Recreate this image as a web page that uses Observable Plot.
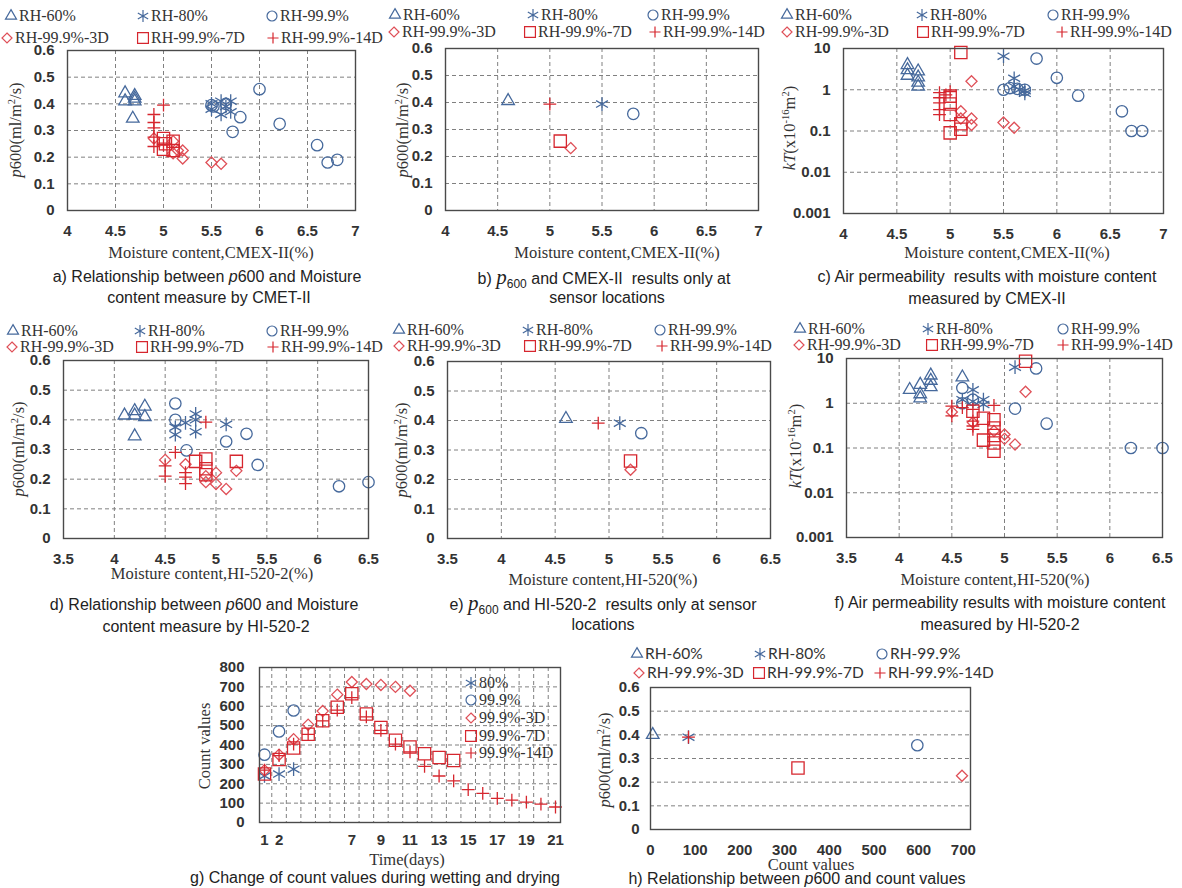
<!DOCTYPE html>
<html>
<head>
<meta charset="utf-8">
<script src="https://cdn.jsdelivr.net/npm/d3@7"></script>
<script src="https://cdn.jsdelivr.net/npm/@observablehq/plot@0.6"></script>
<style>
html,body{margin:0;padding:0;background:#fff;}
#root{position:relative;width:1182px;height:888px;overflow:hidden;background:#fff;}
#root svg text{font-weight:bold;}
.t{position:absolute;white-space:nowrap;line-height:1;color:#222;}
.serif{font-family:"Liberation Serif","Times New Roman",serif;font-size:16.5px;color:#333;}
.leg{font-family:"Liberation Serif","Times New Roman",serif;font-size:16px;color:#333;}
.cap{font-family:"Liberation Sans",Arial,sans-serif;font-size:16px;color:#222;}
.hleg{font-family:Lato,"Liberation Sans",sans-serif;font-size:15.5px;color:#333;}
.pp{font-family:"Liberation Serif",serif;font-size:21px;}
.sb{font-size:12px;position:relative;top:4px;}
.sp{font-size:10.5px;position:relative;top:-6px;}
</style>
</head>
<body>
<div id="root"></div>
<script>
// ------------------------- DATA -------------------------
const seriesLabels = ["RH-60%", "RH-80%", "RH-99.9%", "RH-99.9%-3D", "RH-99.9%-7D", "RH-99.9%-14D"];
const countLabels = ["80%", "99.9%", "99.9%-3D", "99.9%-7D", "99.9%-14D"];

const xTicksCMEX = [4, 4.5, 5, 5.5, 6, 6.5, 7];
const xTicksHI = [3.5, 4, 4.5, 5, 5.5, 6, 6.5];
const pTicks = [0, 0.1, 0.2, 0.3, 0.4, 0.5, 0.6];
const kTicks = [0.001, 0.01, 0.1, 1, 10];
const countTicks = [0, 100, 200, 300, 400, 500, 600, 700, 800];
const dayTicks = [1, 2, 7, 9, 11, 13, 15, 17, 19, 21];
const hTicks = [0, 100, 200, 300, 400, 500, 600, 700];

// a) p600 vs moisture (CMEX-II)
const a_RH60 = [[4.6,0.44],[4.6,0.41],[4.7,0.43],[4.7,0.42],[4.7,0.41],[4.68,0.345]];
const a_RH80 = [[5.5,0.38],[5.5,0.40],[5.6,0.41],[5.6,0.36],[5.7,0.41],[5.7,0.37],[5.65,0.39]];
const a_RH999 = [[5.5,0.395],[5.52,0.39],[5.65,0.40],[5.8,0.35],[5.72,0.295],[6.0,0.455],[6.21,0.325],[6.6,0.245],[6.71,0.18],[6.81,0.19]];
const a_3D = [[4.9,0.27],[5.1,0.26],[5.1,0.215],[5.2,0.225],[5.2,0.195],[5.15,0.225],[5.5,0.18],[5.6,0.175]];
const a_7D = [[5.0,0.27],[5.0,0.23],[5.1,0.26],[5.1,0.225],[5.02,0.25]];
const a_14D = [[5.0,0.395],[4.9,0.36],[4.9,0.33],[4.9,0.31],[4.9,0.275],[4.9,0.24],[5.0,0.245]];

// b) sensor locations (CMEX-II)
const b_RH60 = [[4.6,0.406]];
const b_RH80 = [[5.5,0.394]];
const b_RH999 = [[5.8,0.358]];
const b_3D = [[5.2,0.231]];
const b_7D = [[5.1,0.257]];
const b_14D = [[5.0,0.394]];

// c) kT vs moisture (CMEX-II)
const c_RH60 = [[4.6,4.0],[4.6,3.0],[4.6,2.2],[4.7,2.8],[4.7,2.0],[4.7,1.5],[4.7,1.2]];
const c_RH80 = [[5.5,6.5],[5.6,1.9],[5.6,1.2],[5.65,1.0],[5.7,0.95],[5.7,0.82]];
const c_RH999 = [[5.5,1.0],[5.56,1.1],[5.63,1.05],[5.7,1.0],[5.81,5.7],[6.0,1.95],[6.2,0.72],[6.61,0.3],[6.7,0.1],[6.8,0.1]];
const c_3D = [[5.2,1.6],[5.1,0.3],[5.2,0.2],[5.2,0.14],[5.1,0.2],[5.5,0.16],[5.6,0.12]];
const c_7D = [[5.1,8.0],[5.0,0.7],[5.0,0.45],[5.0,0.25],[5.0,0.09],[5.1,0.15],[5.1,0.11]];
const c_14D = [[4.9,0.85],[4.9,0.64],[4.9,0.48],[4.9,0.33],[4.9,0.25],[4.96,0.75],[5.0,0.9]];

// d) p600 vs moisture (HI-520-2)
const d_RH60 = [[4.1,0.415],[4.2,0.43],[4.2,0.415],[4.3,0.445],[4.3,0.41],[4.2,0.345]];
const d_RH80 = [[4.6,0.375],[4.6,0.35],[4.7,0.39],[4.8,0.42],[4.8,0.40],[4.8,0.36],[5.1,0.385]];
const d_RH999 = [[4.6,0.455],[4.6,0.40],[4.71,0.297],[5.1,0.327],[5.3,0.353],[5.41,0.248],[6.21,0.176],[6.5,0.19]];
const d_3D = [[4.5,0.265],[4.7,0.25],[4.9,0.21],[4.9,0.19],[5.0,0.222],[5.0,0.184],[5.1,0.167],[5.2,0.228]];
const d_7D = [[4.8,0.26],[4.9,0.268],[4.9,0.235],[4.9,0.215],[5.2,0.26]];
const d_14D = [[4.9,0.392],[4.6,0.29],[4.5,0.245],[4.5,0.21],[4.7,0.222],[4.7,0.207],[4.7,0.185]];

// e) sensor locations (HI-520)
const e_RH60 = [[4.6,0.406]];
const e_RH80 = [[5.1,0.391]];
const e_RH999 = [[5.3,0.357]];
const e_3D = [[5.2,0.233]];
const e_7D = [[5.2,0.263]];
const e_14D = [[4.9,0.391]];

// f) kT vs moisture (HI-520)
const f_RH60 = [[4.1,2.0],[4.2,2.6],[4.2,1.6],[4.2,1.3],[4.3,4.2],[4.3,3.2],[4.3,2.3],[4.6,3.8]];
const f_RH80 = [[5.1,6.4],[4.7,2.0],[4.6,1.2],[4.8,0.94],[4.8,1.2],[4.7,1.1]];
const f_RH999 = [[4.6,2.2],[4.7,1.2],[4.6,1.0],[5.3,6.0],[5.1,0.76],[5.4,0.35],[6.2,0.1],[6.5,0.1]];
const f_3D = [[5.2,1.8],[4.5,0.64],[4.7,0.37],[5.0,0.2],[5.0,0.16],[5.1,0.12],[4.9,0.24]];
const f_7D = [[5.2,8.7],[4.7,0.66],[4.8,0.46],[4.8,0.15],[4.9,0.43],[4.9,0.28],[4.9,0.19],[4.9,0.13],[4.9,0.085]];
const f_14D = [[4.5,0.86],[4.5,0.52],[4.6,0.8],[4.7,0.73],[4.7,0.4],[4.7,0.31],[4.7,0.26],[4.9,0.9]];

// g) count values over time
const g_days = [1,2,3,4,5,6,7,8,9,10,11,12,13,14,15,16,17,18,19,20,21];
const g_80 = [240,250,275];
const g_999 = [350,470,578];
const g_3D = [270,350,430,505,575,660,725,715,710,700,680];
const g_7D = [250,325,385,455,525,595,665,560,490,425,390,355,335,320];
const g_14D = [270,345,405,455,525,580,645,545,475,405,365,290,240,215,170,150,125,115,105,95,80];

// h) p600 vs count values
const h_RH60 = [[5,0.40]];
const h_RH80 = [[85,0.39]];
const h_RH999 = [[597,0.356]];
const h_3D = [[697,0.227]];
const h_7D = [[330,0.26]];
const h_14D = [[85,0.39]];

// ------------------------- STYLE -------------------------
const BLUE = "#46699c", RED = "#d6262e", PINK = "#df5058", GRID = "#808080";
const STYLE = [
  {symbol:"triangle2", color:BLUE, r:6,   lt:d3.symbolTriangle2, ls:87},
  {symbol:"asterisk",  color:BLUE, r:6.5, lt:d3.symbolAsterisk,  ls:100},
  {symbol:"circle",    color:BLUE, r:5.7, lt:d3.symbolCircle,    ls:78},
  {symbol:"diamond2",  color:PINK, r:5,   lt:d3.symbolDiamond2,  ls:64},
  {symbol:"square2",   color:RED,  r:7.8, lt:d3.symbolSquare2,   ls:150},
  {symbol:"plus",      color:RED,  r:4.2, lt:d3.symbolPlus,      ls:42}
];

const root = document.getElementById("root");
const mL = 60, mR = 20, mT = 12, mB = 34;

function panel(cfg) {
  const [x0, y0, x1, y1] = cfg.frame;
  const W = x1 - x0 + mL + mR, H = y1 - y0 + mT + mB;
  const marks = [];
  if (cfg.gx) marks.push(Plot.ruleX(cfg.gx, {stroke: GRID, strokeDasharray: "4,3", strokeWidth: 1}));
  if (cfg.gy) marks.push(Plot.ruleY(cfg.gy, {stroke: GRID, strokeDasharray: "4,3", strokeWidth: 1}));
  cfg.series.forEach((s, i) => {
    if (!s) return;
    const st = STYLE[cfg.styles ? cfg.styles[i] : i];
    marks.push(Plot.dot(s, {x: d => d[0], y: d => d[1], symbol: st.symbol, r: st.r, stroke: st.color, fill: "none", strokeWidth: 1.3}));
  });
  marks.push(Plot.frame({stroke: "#4a4a4a", strokeWidth: 1.4}));
  const svg = Plot.plot({
    width: W, height: H,
    marginLeft: mL, marginRight: mR, marginTop: mT, marginBottom: mB,
    style: {fontFamily: "'Liberation Sans', Arial, sans-serif", fontSize: "15px", fontWeight: "bold", color: "#333",
            background: "transparent", overflow: "visible", maxWidth: "none"},
    x: {domain: cfg.xd, ticks: cfg.xt, tickFormat: d => String(d), tickSize: 0, tickPadding: cfg.xpad ?? 15, label: null},
    y: {type: cfg.ytype || "linear", domain: cfg.yd, ticks: cfg.yt, tickFormat: d => String(d), tickSize: 0, tickPadding: cfg.ypad ?? 13, label: null},
    marks
  });
  svg.style.position = "absolute";
  svg.style.left = (x0 - mL) + "px";
  svg.style.top = (y0 - mT) + "px";
  root.appendChild(svg);
}

function text(html, cx, cy, cls, rot) {
  const d = document.createElement("div");
  d.className = "t " + cls;
  d.innerHTML = html;
  d.style.left = cx + "px";
  d.style.top = cy + "px";
  d.style.transform = "translate(-50%,-50%)" + (rot ? " rotate(-90deg)" : "");
  root.appendChild(d);
}

function legendItem(sx, sy, st, label, cls) {
  const d = document.createElement("div");
  d.className = "t " + cls;
  d.style.left = (sx - 7) + "px";
  d.style.top = (sy - 8) + "px";
  d.style.height = "16px";
  d.style.display = "flex";
  d.style.alignItems = "center";
  const path = d3.symbol(st.lt, st.ls)();
  d.innerHTML = `<svg width="14" height="14" style="overflow:visible;flex:none"><path d="${path}" transform="translate(7,7)" fill="none" stroke="${st.color}" stroke-width="1.2"/></svg><span style="margin-left:1px">${label}</span>`;
  root.appendChild(d);
}

function legend6(pos, cls) {
  pos.forEach((p, i) => legendItem(p[0], p[1], STYLE[i], seriesLabels[i], cls));
}

const P_TITLE = `<i>p</i>600(ml/m<span class="sp">2</span>/s)`;
const K_TITLE = `<i>kT</i>(x10<span class="sp">-16</span>m<span class="sp">2</span>)`;
const gridCMEX = [4.5, 5, 5.5, 6, 6.5];
const gridHI = [4, 4.5, 5, 5.5, 6];
const gridP = [0.1, 0.2, 0.3, 0.4, 0.5];
const gridK = [0.01, 0.1, 1];

// a
panel({frame:[67,50,355,210], xd:[4,7], xt:xTicksCMEX, yd:[0,0.6], yt:pTicks, gx:gridCMEX, gy:gridP,
       series:[a_RH60,a_RH80,a_RH999,a_3D,a_7D,a_14D]});
legend6([[11,16],[143,16],[272,16],[7,38],[143,38],[273,38]], "leg");
text("Moisture content,CMEX-II(%)", 211, 253, "serif");
text(P_TITLE, 16, 130, "serif", true);
text("a) Relationship between <i>p</i>600 and Moisture", 207, 277, "cap");
text("content measure by CMET-II", 209, 298, "cap");

// b
panel({frame:[445,48,758,210], xd:[4,7], xt:xTicksCMEX, yd:[0,0.6], yt:pTicks, gx:gridCMEX, gy:gridP,
       series:[b_RH60,b_RH80,b_RH999,b_3D,b_7D,b_14D]});
legend6([[395,15],[533,15],[653,15],[394,32],[530,32],[655,32]], "leg");
text("Moisture content,CMEX-II(%)", 617, 253, "serif");
text(P_TITLE, 403, 130, "serif", true);
text(`b) <i class="pp">p</i><span class="sb">600</span> and CMEX-II&nbsp; results only at`, 604, 277, "cap");
text("sensor locations", 607, 298, "cap");

// c
panel({frame:[843,48,1163,213], xd:[4,7], xt:xTicksCMEX, yd:[0.001,10], ytype:"log", yt:kTicks, gx:gridCMEX, gy:gridK,
       series:[c_RH60,c_RH80,c_RH999,c_3D,c_7D,c_14D]});
legend6([[787,15],[922,15],[1053,15],[787,32],[923,32],[1062,32]], "leg");
text("Moisture content,CMEX-II(%)", 1007, 253, "serif");
text(K_TITLE, 790, 128, "serif", true);
text("c) Air permeability&nbsp; results with moisture content", 987, 277, "cap");
text("measured by CMEX-II", 987, 299, "cap");

// d
panel({frame:[63,360,368,538], xd:[3.5,6.5], xt:xTicksHI, yd:[0,0.6], yt:pTicks, gx:gridHI, gy:gridP,
       series:[d_RH60,d_RH80,d_RH999,d_3D,d_7D,d_14D]});
legend6([[13,331],[140,331],[272,331],[12,347],[142,347],[273,347]], "leg");
text("Moisture content,HI-520-2(%)", 212, 574, "serif");
text(P_TITLE, 19, 449, "serif", true);
text("d) Relationship between <i>p</i>600 and Moisture", 204, 605, "cap");
text("content measure by HI-520-2", 206, 627, "cap");

// e
panel({frame:[447,361,770,538], xd:[3.5,6.5], xt:xTicksHI, yd:[0,0.6], yt:pTicks, gx:gridHI, gy:gridP,
       series:[e_RH60,e_RH80,e_RH999,e_3D,e_7D,e_14D]});
legend6([[399,330],[528,330],[660,330],[399,346],[530,346],[662,346]], "leg");
text("Moisture content,HI-520(%)", 603, 580, "serif");
text(P_TITLE, 402, 450, "serif", true);
text(`e) <i class="pp">p</i><span class="sb">600</span> and HI-520-2&nbsp; results only at sensor`, 603, 603, "cap");
text("locations", 603, 625, "cap");

// f
panel({frame:[846,358,1162,537], xd:[3.5,6.5], xt:xTicksHI, yd:[0.001,10], ytype:"log", yt:kTicks, gx:gridHI, gy:gridK,
       series:[f_RH60,f_RH80,f_RH999,f_3D,f_7D,f_14D]});
legend6([[800,329],[928,329],[1063,329],[799,345],[932,345],[1063,345]], "leg");
text("Moisture content,HI-520(%)", 995, 580, "serif");
text(K_TITLE, 796, 446, "serif", true);
text("f) Air permeability results with moisture content", 1000, 603, "cap");
text("measured by HI-520-2", 1000, 625, "cap");

// g
const gSeries = [g_80, g_999, g_3D, g_7D, g_14D].map(v => v.map((c, i) => [g_days[i], c]));
const gGridX = g_days.slice(0, 20).map(d => d + 0.5);
panel({frame:[259,667,560,822], xd:[0.656,21.344], xt:dayTicks, yd:[0,800], yt:countTicks, xpad:12, ypad:15,
       gx:gGridX, gy:[100,200,300,400,500,600,700], series:gSeries, styles:[1,2,3,4,5]});
[683, 700, 718, 736, 753].forEach((y, i) => legendItem(471, y, STYLE[i + 1], countLabels[i], "leg"));
text("Time(days)", 407, 860, "serif");
text("Count values", 205, 746, "serif", true);
text("g) Change of count values during wetting and drying", 375, 878, "cap");

// h
panel({frame:[650,687,970,829], xd:[0,716], xt:hTicks, yd:[0,0.6], yt:pTicks, xpad:15, ypad:11,
       gy:gridP, series:[h_RH60,h_RH80,h_RH999,h_3D,h_7D,h_14D]});
legend6([[637,654],[760,654],[882,654],[639,673],[759,673],[880,673]], "hleg");
text("Count values", 811, 865, "serif");
text(P_TITLE, 605, 760, "serif", true);
text("h) Relationship between <i>p</i>600 and count values", 797, 879, "cap");
</script>
</body>
</html>
